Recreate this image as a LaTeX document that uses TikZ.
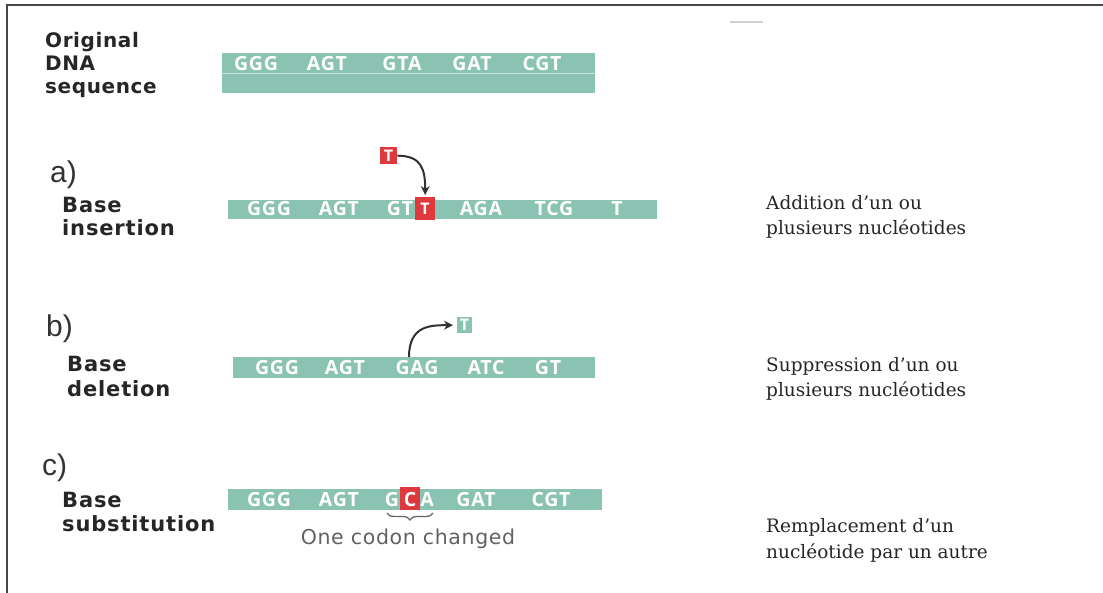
\documentclass[tikz,border=0pt]{standalone}
\usepackage{fontspec}
\setmainfont{DejaVu Serif}
\newfontfamily\labfont{DejaVu Sans}[LetterSpace=4]
\newfontfamily\toplabfont{DejaVu Sans}[LetterSpace=3]
\newfontfamily\codfont{Open Sans}[LetterSpace=4]
\newfontfamily\letfont{Liberation Sans}
\newfontfamily\notefont{DejaVu Sans}[LetterSpace=3]
\usetikzlibrary{arrows.meta,decorations.pathreplacing}
\definecolor{dnateal}{RGB}{138,195,178}
\definecolor{mutred}{RGB}{222,58,62}
\definecolor{framegray}{RGB}{70,70,70}
\definecolor{arrgray}{RGB}{50,50,50}
\begin{document}
\begin{tikzpicture}[x=1pt,y=-1pt,
  bar/.style={fill=dnateal,draw=none,inner sep=0,anchor=north west},
  codon/.style={font=\codfont\bfseries\fontsize{19.5}{21}\selectfont,text=white,inner sep=0,anchor=base},
  mutbox/.style={fill=mutred,draw=none,inner sep=0,anchor=north west},
  tealbox/.style={fill=dnateal,draw=none,inner sep=0,anchor=north west},
  boxletter/.style={font=\codfont\bfseries\fontsize{16}{18}\selectfont,text=white,inner sep=0},
  lbl/.style={font=\labfont\bfseries\fontsize{21}{23}\selectfont,text=black!85,anchor=base west,inner sep=0},
  toplbl/.style={font=\toplabfont\bfseries\fontsize{20}{22}\selectfont,text=black!85,anchor=base west,inner sep=0},
  letter/.style={font=\letfont\fontsize{30}{32}\selectfont,text=black!80,anchor=base west,inner sep=0},
  desc/.style={font=\fontsize{18.5}{22}\selectfont,text=black!85,anchor=base west,inner sep=0},
  note/.style={font=\notefont\fontsize{20.5}{22}\selectfont,text=black!62,anchor=base,inner sep=0},
  arr/.style={draw=arrgray,line width=2pt,-{Stealth[length=9pt,width=9pt]}}
]
\useasboundingbox (0,0) rectangle (1103,593);
% frame
\draw[framegray,line width=2pt] (7,593) -- (7,5) -- (1103,5);
\draw[black!18,line width=1.2pt] (730,22) -- (763,22);

% original sequence
\node[toplbl] (o1) at (45,48) {Original};
\node[toplbl] (o2) at (45,71) {DNA};
\node[toplbl] (o3) at (45,94) {sequence};
\node[bar,minimum width=373,minimum height=40] (obar) at (222,53) {};
\draw[white!55!dnateal,line width=1.3pt] ([yshift=-20.5pt]obar.north west) -- ([yshift=-20.5pt]obar.north east);
\node[codon] (oc1) at (256,71) {GGG};
\node[codon] (oc2) at (327,71) {AGT};
\node[codon] (oc3) at (402,71) {GTA};
\node[codon] (oc4) at (472,71) {GAT};
\node[codon] (oc5) at (542,71) {CGT};

% a) insertion
\node[letter] (la) at (50,183) {a)};
\node[lbl] (a1) at (62,213) {Base};
\node[lbl] (a2) at (62,236) {insertion};
\node[bar,minimum width=429,minimum height=19] (abar) at (228,200) {};
\node[codon] (ac1) at (269,216) {GGG};
\node[codon] (ac2) at (339,216) {AGT};
\node[codon] (ac3) at (400,216) {GT};
\node[mutbox,minimum width=20,minimum height=23] (tins) at (415,197) {};
\node[boxletter,anchor=base] (tinsl) at (425,215) {T};
\node[codon] (ac4) at (481,216) {AGA};
\node[codon] (ac5) at (554,216) {TCG};
\node[codon] (ac6) at (617,216) {T};
\node[mutbox,minimum width=17,minimum height=17] (ttop) at (380,147) {};
\node[boxletter,anchor=base] (ttopl) at (388.5,161.5) {T};
\draw[arr,shorten >=2pt] (ttop.east) .. controls +(24,0) and +(0,-28) .. (tins.north);
\node[desc] (da1) at (766,210) {Addition d’un ou};
\node[desc] (da2) at (766,235) {plusieurs nucléotides};

% b) deletion
\node[letter] (lb) at (46,337) {b)};
\node[lbl] (b1) at (67,372) {Base};
\node[lbl] (b2) at (67,397) {deletion};
\node[bar,minimum width=362,minimum height=21] (bbar) at (233,357) {};
\node[codon] (bc1) at (277,375) {GGG};
\node[codon] (bc2) at (345,375) {AGT};
\node[codon] (bc3) at (417,375) {GAG};
\node[codon] (bc4) at (486,375) {ATC};
\node[codon] (bc5) at (548,375) {GT};
\node[tealbox,minimum width=15,minimum height=16] (tdel) at (457,317) {};
\node[boxletter,anchor=base] (tdell) at (464.5,331) {T};
\coordinate (dstart) at (409,357);
\draw[arr,shorten >=4pt] (dstart) .. controls +(0,-32) and +(-26,0) .. (tdel.west);
\node[desc] (db1) at (766,372) {Suppression d’un ou};
\node[desc] (db2) at (766,397) {plusieurs nucléotides};

% c) substitution
\node[letter] (lc) at (42,475) {c)};
\node[lbl] (c1) at (62,507) {Base};
\node[lbl] (c2) at (62,531) {substitution};
\node[bar,minimum width=374,minimum height=21] (cbar) at (228,489) {};
\node[mutbox,minimum width=20,minimum height=23] (csub) at (400,487) {};
\node[codon] (cc1) at (269,506) {GGG};
\node[codon] (cc2) at (339,506) {AGT};
\node[codon] (cc3) at (392,506) {G};
\node[codon] (cc4) at (410,506) {C};
\node[codon] (cc5) at (427,506) {A};
\node[codon] (cc6) at (476,506) {GAT};
\node[codon] (cc7) at (551,506) {CGT};
\coordinate (braceL) at (387,513);
\coordinate (braceR) at (433,513);
\draw[black!60,line width=1.3pt,decorate,decoration={brace,mirror,amplitude=7pt}] (braceL) -- (braceR);
\node[note] (chg) at (408,544) {One codon changed};
\node[desc] (dc1) at (766,532) {Remplacement d’un};
\node[desc] (dc2) at (766,558) {nucléotide par un autre};
\end{tikzpicture}
\end{document}
